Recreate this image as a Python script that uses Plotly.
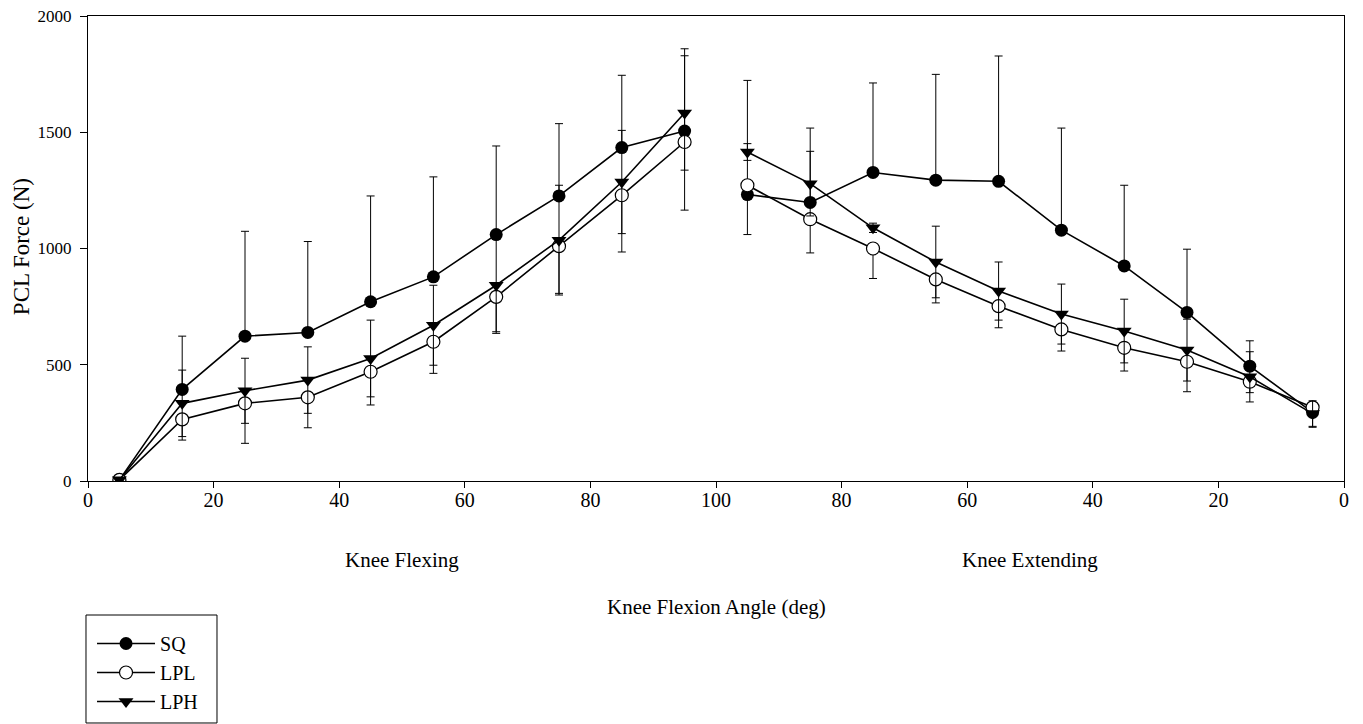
import plotly.graph_objects as go

# x positions: 0-100 knee flexing, 100-200 knee extending (labels run back 100 -> 0)
x_flex = [5, 15, 25, 35, 45, 55, 65, 75, 85, 95]
x_ext = [105, 115, 125, 135, 145, 155, 165, 175, 185, 195]
tick_vals = [0, 20, 40, 60, 80, 100, 120, 140, 160, 180, 200]
tick_text = ["0", "20", "40", "60", "80", "100", "80", "60", "40", "20", "0"]

sq_flex = [5, 394, 623, 639, 771, 878, 1060, 1226, 1434, 1505]
sq_ext = [1232, 1198, 1327, 1294, 1289, 1079, 925, 725, 494, 295]
sq_plus_flex = [0, 229, 451, 391, 455, 430, 381, 311, 311, 354]
sq_plus_ext = [491, 320, 385, 455, 539, 439, 347, 272, 109, 20]

lpl_flex = [5, 265, 334, 360, 470, 599, 792, 1010, 1229, 1458]
lpl_ext = [1272, 1126, 1000, 867, 752, 652, 573, 513, 427, 317]
lpl_minus_flex = [0, 89, 172, 131, 143, 136, 157, 203, 244, 293]
lpl_minus_ext = [212, 145, 129, 101, 93, 93, 100, 129, 47, 86]

lph_flex = [5, 334, 388, 434, 527, 670, 842, 1036, 1286, 1583]
lph_ext = [1415, 1279, 1089, 942, 817, 718, 645, 563, 448, 290]
lph_err_flex = [0, 143, 140, 143, 165, 172, 200, 236, 222, 246]
lph_err_ext = [36, 139, 20, 154, 125, 129, 137, 133, 108, 55]

FONT = "Liberation Serif, Times New Roman, serif"


def join(a, b):
    # break the line between the flexing and extending phases
    return list(a) + [None] + list(b)


x_all = join(x_flex, x_ext)
zeros = [0] * len(x_all)

fig = go.Figure()
fig.add_trace(go.Scatter(
    x=x_all, y=join(sq_flex, sq_ext), name="SQ", mode="lines+markers",
    connectgaps=False,
    line=dict(color="black", width=1.6),
    marker=dict(symbol="circle", size=13, color="black"),
    error_y=dict(type="data", symmetric=False, array=join(sq_plus_flex, sq_plus_ext),
                 arrayminus=zeros, color="black", thickness=1, width=4),
))
fig.add_trace(go.Scatter(
    x=x_all, y=join(lpl_flex, lpl_ext), name="LPL", mode="lines+markers",
    connectgaps=False,
    line=dict(color="black", width=1.6),
    marker=dict(symbol="circle", size=13, color="white",
                line=dict(color="black", width=1.2)),
    error_y=dict(type="data", symmetric=False, array=zeros,
                 arrayminus=join(lpl_minus_flex, lpl_minus_ext),
                 color="black", thickness=1, width=4),
))
fig.add_trace(go.Scatter(
    x=x_all, y=join(lph_flex, lph_ext), name="LPH", mode="lines+markers",
    connectgaps=False,
    line=dict(color="black", width=1.6),
    marker=dict(symbol="triangle-down", size=13, color="black"),
    error_y=dict(type="data", array=join(lph_err_flex, lph_err_ext),
                 color="black", thickness=1, width=4),
))

fig.update_layout(
    width=1355, height=716,
    margin=dict(l=80, r=19, t=8, b=243, autoexpand=False),
    paper_bgcolor="white", plot_bgcolor="white",
    font=dict(family=FONT, color="black"),
    showlegend=True,
    legend=dict(x=0.0032, y=-0.3075, xanchor="left", yanchor="top",
                borderwidth=0, bgcolor="rgba(0,0,0,0)",
                font=dict(family=FONT, size=20, color="black"),
                itemwidth=58, tracegroupgap=0),
    xaxis=dict(range=[0, 200], tickmode="array", tickvals=tick_vals, ticktext=tick_text,
               showgrid=False, zeroline=False, showline=True, linecolor="black",
               linewidth=1, mirror=True, ticks="outside", ticklen=6, tickcolor="black",
               tickfont=dict(family=FONT, size=20, color="black"), ticklabelstandoff=-5,
               ticklabeloverflow="allow"),
    yaxis=dict(range=[0, 2000], tickmode="array", tickvals=[0, 500, 1000, 1500, 2000],
               showgrid=False, zeroline=False, showline=True, linecolor="black",
               linewidth=1, mirror=True, ticks="outside", ticklen=7, tickcolor="black",
               tickfont=dict(family=FONT, size=17, color="black"), ticklabelstandoff=5,
               ticklabeloverflow="allow"),
    shapes=[
        dict(type="rect", xref="paper", yref="paper",
             x0=-0.0016, x1=0.1027, y0=-0.2882, y1=-0.5204,
             line=dict(color="black", width=1), fillcolor="rgba(0,0,0,0)"),
    ],
    annotations=[
        dict(text="Knee Flexing", x=0.25, y=-0.17, xref="paper", yref="paper",
             xanchor="center", yanchor="middle",
             showarrow=False, font=dict(family=FONT, size=21, color="black")),
        dict(text="Knee Extending", x=0.75, y=-0.17, xref="paper", yref="paper",
             xanchor="center", yanchor="middle",
             showarrow=False, font=dict(family=FONT, size=21, color="black")),
        dict(text="Knee Flexion Angle (deg)", x=0.5, y=-0.271, xref="paper", yref="paper",
             xanchor="center", yanchor="middle",
             showarrow=False, font=dict(family=FONT, size=21, color="black")),
        dict(text="PCL Force (N)", x=-0.0533, y=0.503, xref="paper", yref="paper",
             xanchor="center", yanchor="middle",
             showarrow=False, textangle=-90, font=dict(family=FONT, size=23, color="black")),
    ],
)

fig.write_html("out.html")
